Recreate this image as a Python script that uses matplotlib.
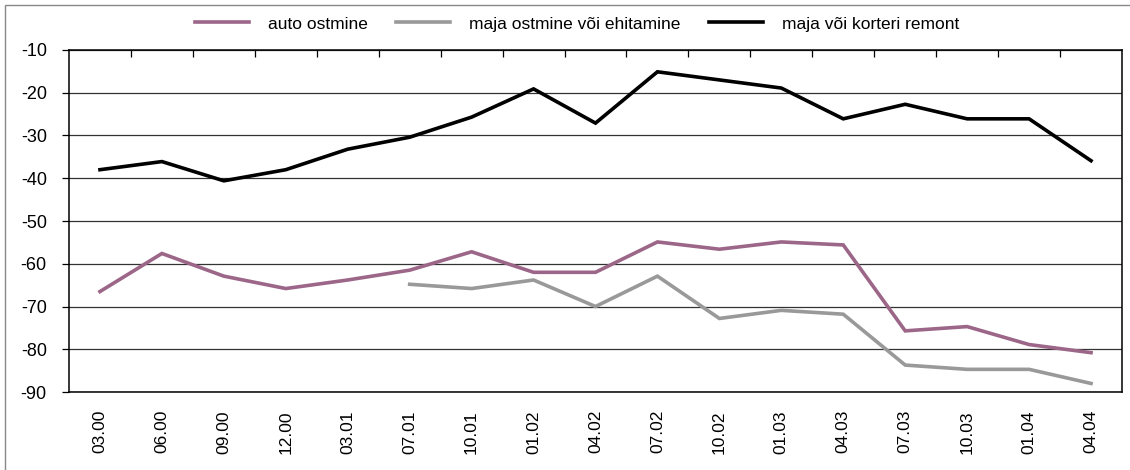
import numpy as np
import matplotlib
matplotlib.use("Agg")
import matplotlib.pyplot as plt
from matplotlib.patches import Rectangle

plt.rcParams["font.family"] = ["Liberation Sans", "DejaVu Sans"]
plt.rcParams["axes.unicode_minus"] = False

# -----------------------------
# data
# -----------------------------
periods = ["03.00", "06.00", "09.00", "12.00", "03.01", "07.01", "10.01", "01.02",
           "04.02", "07.02", "10.02", "01.03", "04.03", "07.03", "10.03", "01.04", "04.04"]

auto_ostmine = [-66.5, -57.6, -62.9, -65.8, -63.8, -61.5, -57.2, -62.0,
                -62.0, -54.9, -56.6, -54.9, -55.6, -75.7, -74.7, -78.9, -80.8]

# first five quarters missing
maja_ostmine = [np.nan, np.nan, np.nan, np.nan, np.nan, -64.8, -65.8, -63.8,
                -70.0, -62.9, -72.8, -70.9, -71.8, -83.7, -84.7, -84.7, -88.0]

remont = [-38.0, -36.1, -40.6, -38.0, -33.2, -30.4, -25.7, -19.1,
          -27.1, -15.1, -17.0, -18.9, -26.1, -22.7, -26.1, -26.1, -35.9]

labels = ["auto ostmine", "maja ostmine või ehitamine", "maja või korteri remont"]
colors = ["#9c6688", "#999999", "#000000"]

# -----------------------------
# figure
# -----------------------------
fig = plt.figure(figsize=(11.3, 4.7), dpi=100)
ax = fig.add_axes([69 / 1130, 1 - 392 / 470, 1053 / 1130, 342 / 470])

x = np.arange(len(periods))
for series, lab, col in zip([auto_ostmine, maja_ostmine, remont], labels, colors):
    ax.plot(x, series, color=col, lw=2.6, label=lab, solid_joinstyle="miter")

ax.set_xlim(-0.5, len(periods) - 0.5)
ax.set_ylim(-90, -10)
ax.set_yticks(np.arange(-90, -9, 10))
ax.grid(axis="y", color="#333333", lw=0.9)
ax.set_axisbelow(True)

ax.set_xticks(x)
ax.set_xticklabels(periods, rotation=90, fontsize=12.5)
ax.tick_params(axis="x", which="major", length=0, pad=13)
ax.set_xticks(np.arange(0.5, len(periods) - 1, 1), minor=True)
ax.tick_params(axis="x", which="minor", top=True, bottom=False,
               direction="in", length=5, width=0.9)
ax.tick_params(axis="y", length=5, width=0.9, pad=11, labelsize=13)

for s in ax.spines.values():
    s.set_linewidth(1.1)
    s.set_color("black")

fig.legend(loc="center", bbox_to_anchor=(577 / 1130, 1 - 24 / 470), ncol=3,
           frameon=False, fontsize=12.5, handlelength=3.1, handletextpad=1.1,
           columnspacing=1.65)

# outer chart frame (cut off at right and bottom)
fig.patches.append(Rectangle((5 / 1130, -0.1), 1.2, 1.1 - 5 / 470,
                             transform=fig.transFigure, fill=False,
                             edgecolor="#888888", lw=1.0))

fig.savefig("out.png", dpi=100)
